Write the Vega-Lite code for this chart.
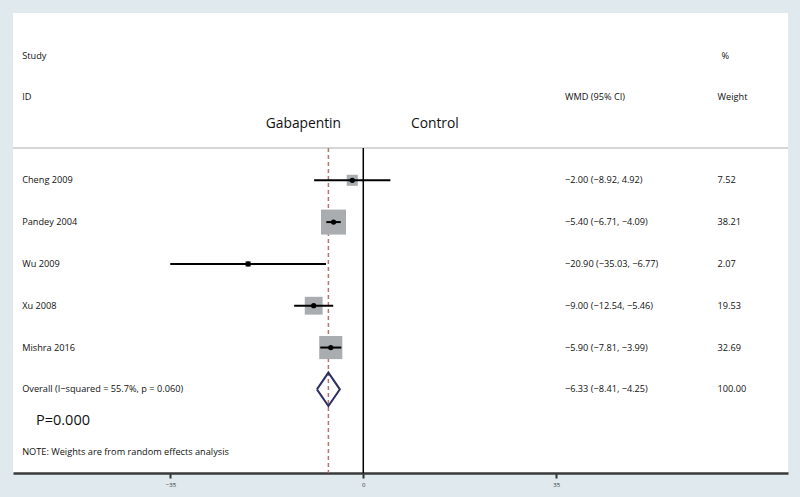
{
  "$schema": "https://vega.github.io/schema/vega-lite/v6.json",
  "width": 775,
  "height": 460,
  "autosize": {"type": "none"},
  "padding": {"left": 13, "top": 13, "right": 12, "bottom": 24},
  "background": "#dfe9ee",
  "config": {
    "view": {"fill": "white", "stroke": null},
    "font": "Open Sans",
    "text": {"font": "Open Sans", "fontSize": 9.2, "color": "#111111", "align": "left", "baseline": "middle"},
    "axis": {"grid": false}
  },
  "datasets": {
    "one": [{}],
    "studies": [
      {"study": "Cheng 2009", "row": 1, "est": -2.00, "lo": -8.92, "hi": 4.92, "weight": 7.52, "ci": "\u22122.00 (\u22128.92, 4.92)", "w": "7.52"},
      {"study": "Pandey 2004", "row": 2, "est": -5.40, "lo": -6.71, "hi": -4.09, "weight": 38.21, "ci": "\u22125.40 (\u22126.71, \u22124.09)", "w": "38.21"},
      {"study": "Wu 2009", "row": 3, "est": -20.90, "lo": -35.03, "hi": -6.77, "weight": 2.07, "ci": "\u221220.90 (\u221235.03, \u22126.77)", "w": "2.07"},
      {"study": "Xu 2008", "row": 4, "est": -9.00, "lo": -12.54, "hi": -5.46, "weight": 19.53, "ci": "\u22129.00 (\u221212.54, \u22125.46)", "w": "19.53"},
      {"study": "Mishra 2016", "row": 5, "est": -5.90, "lo": -7.81, "hi": -3.99, "weight": 32.69, "ci": "\u22125.90 (\u22127.81, \u22123.99)", "w": "32.69"}
    ],
    "overall": [
      {"study": "Overall  (I\u2212squared = 55.7%, p = 0.060)", "row": 6, "est": -6.33, "lo": -8.41, "hi": -4.25, "weight": 100, "ci": "\u22126.33 (\u22128.41, \u22124.25)", "w": "100.00"}
    ],
    "diamond": [
      {"x": -8.41, "y": 6, "k": 1},
      {"x": -6.33, "y": 5.6, "k": 2},
      {"x": -4.25, "y": 6, "k": 3},
      {"x": -6.33, "y": 6.4, "k": 4},
      {"x": -8.41, "y": 6, "k": 5}
    ]
  },
  "data": {"name": "one"},
  "encoding": {
    "x": {"type": "quantitative", "scale": {"domain": [-63.57, 77.08], "nice": false, "zero": false},
      "axis": {"values": [-35, 0, 35], "title": null, "labelFontSize": 6, "labelColor": "#333", "tickColor": "#333", "tickWidth": 2, "tickSize": 5, "domainColor": "#3a3a3a", "domainWidth": 2.5, "labelPadding": 3, "labelFont": "Open Sans"}},
    "y": {"type": "quantitative", "scale": {"domain": [-3, 8], "nice": false, "zero": false, "reverse": true}, "axis": null}
  },
  "layer": [
    {"mark": {"type": "rule", "color": "#c8c8c8", "strokeWidth": 1.5}, "encoding": {"y": {"datum": 0.23}}},
    {"mark": {"type": "rule", "color": "#000", "strokeWidth": 1.5}, "encoding": {"x": {"datum": 0}, "y": {"datum": 0.23}, "y2": {"datum": 8}}},
    {"data": {"name": "overall"}, "mark": {"type": "rule", "color": "#b9726e", "strokeWidth": 1.5, "strokeDash": [4, 3]},
      "encoding": {"x": {"field": "est"}, "y": {"datum": 0.23}, "y2": {"datum": 8}}},
    {"data": {"name": "studies"}, "mark": {"type": "point", "shape": "square", "filled": true, "color": "#a9adb0", "opacity": 1},
      "encoding": {"x": {"field": "est"}, "y": {"field": "row"}, "size": {"field": "weight", "type": "quantitative", "scale": {"type": "linear", "domain": [0, 100], "range": [0, 1636], "zero": true}, "legend": null}}},
    {"data": {"name": "studies"}, "mark": {"type": "rule", "color": "#000", "strokeWidth": 2},
      "encoding": {"x": {"field": "lo"}, "x2": {"field": "hi"}, "y": {"field": "row"}}},
    {"data": {"name": "studies"}, "mark": {"type": "point", "shape": "circle", "filled": true, "color": "#000", "size": 28, "opacity": 1},
      "encoding": {"x": {"field": "est"}, "y": {"field": "row"}}},
    {"data": {"name": "diamond"}, "mark": {"type": "line", "color": "#2e2f62", "strokeWidth": 2, "strokeJoin": "miter"},
      "encoding": {"x": {"field": "x"}, "y": {"field": "y"}, "order": {"field": "k", "type": "quantitative"}}},
    {"data": {"name": "studies"}, "mark": {"type": "text"}, "encoding": {"x": {"datum": -61.9}, "y": {"field": "row"}, "text": {"field": "study"}}},
    {"data": {"name": "overall"}, "mark": {"type": "text"}, "encoding": {"x": {"datum": -61.9}, "y": {"field": "row"}, "text": {"field": "study"}}},
    {"data": {"name": "studies"}, "mark": {"type": "text"}, "encoding": {"x": {"datum": 36.6}, "y": {"field": "row"}, "text": {"field": "ci"}}},
    {"data": {"name": "overall"}, "mark": {"type": "text"}, "encoding": {"x": {"datum": 36.6}, "y": {"field": "row"}, "text": {"field": "ci"}}},
    {"data": {"name": "studies"}, "mark": {"type": "text"}, "encoding": {"x": {"datum": 64.3}, "y": {"field": "row"}, "text": {"field": "w"}}},
    {"data": {"name": "overall"}, "mark": {"type": "text"}, "encoding": {"x": {"datum": 64.3}, "y": {"field": "row"}, "text": {"field": "w"}}},
    {"mark": {"type": "text", "text": "Study"}, "encoding": {"x": {"datum": -61.9}, "y": {"datum": -1.97}}},
    {"mark": {"type": "text", "text": "ID"}, "encoding": {"x": {"datum": -61.9}, "y": {"datum": -0.98}}},
    {"mark": {"type": "text", "text": "%"}, "encoding": {"x": {"datum": 65.0}, "y": {"datum": -1.97}}},
    {"mark": {"type": "text", "text": "WMD (95% CI)"}, "encoding": {"x": {"datum": 36.6}, "y": {"datum": -0.98}}},
    {"mark": {"type": "text", "text": "Weight"}, "encoding": {"x": {"datum": 64.3}, "y": {"datum": -0.98}}},
    {"mark": {"type": "text", "text": "Gabapentin", "fontSize": 13.8}, "encoding": {"x": {"datum": -17.7}, "y": {"datum": -0.34}}},
    {"mark": {"type": "text", "text": "Control", "fontSize": 13.8}, "encoding": {"x": {"datum": 8.65}, "y": {"datum": -0.34}}},
    {"mark": {"type": "text", "text": "P=0.000", "fontSize": 14.5}, "encoding": {"x": {"datum": -59.4}, "y": {"datum": 6.76}}},
    {"mark": {"type": "text", "text": "NOTE: Weights are from random effects analysis"}, "encoding": {"x": {"datum": -61.9}, "y": {"datum": 7.5}}}
  ]
}
